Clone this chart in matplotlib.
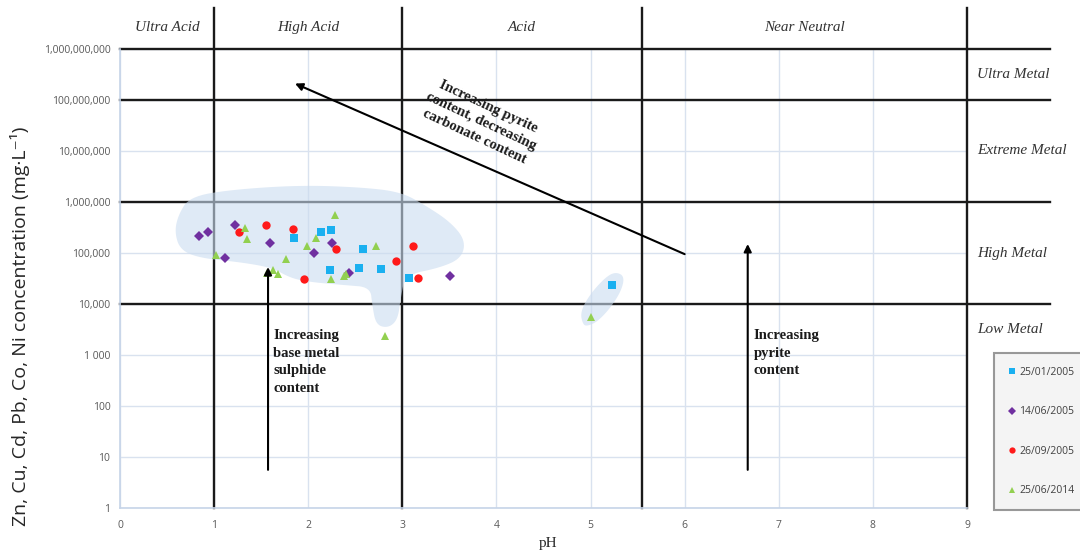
import numpy as np
import matplotlib
matplotlib.use("Agg")
import matplotlib.pyplot as plt
from matplotlib.ticker import FixedLocator, FixedFormatter

# sample series: pH and metal concentration (mg/L)
jan05_ph = [1.85, 2.14, 2.24, 2.23, 2.58, 2.54, 2.77, 3.07, 5.23]
jan05_conc = [2.0e5, 2.6e5, 2.8e5, 4.6e4, 1.2e5, 5.1e4, 4.8e4, 3.2e4, 2.4e4]

jun05_ph = [0.84, 0.94, 1.12, 1.22, 1.59, 2.06, 2.25, 2.43, 3.51]
jun05_conc = [2.2e5, 2.6e5, 7.9e4, 3.5e5, 1.6e5, 1.0e5, 1.6e5, 4.1e4, 3.5e4]

sep05_ph = [1.26, 1.55, 1.84, 2.30, 1.96, 2.93, 3.11, 3.17]
sep05_conc = [2.6e5, 3.5e5, 3.0e5, 1.2e5, 3.1e4, 7.0e4, 1.4e5, 3.2e4]

jun14_ph = [1.02, 1.33, 1.35, 1.56, 1.63, 1.68, 1.76, 1.99, 2.08, 2.28,
            2.24, 2.38, 2.40, 2.72, 2.82, 5.01]
jun14_conc = [9.1e4, 3.1e5, 1.9e5, 4.0e4, 4.7e4, 3.9e4, 7.6e4, 1.4e5, 2.0e5, 5.6e5,
              3.1e4, 3.6e4, 3.8e4, 1.4e5, 2.4e3, 5.6e3]

# classification boundaries
ph_bounds = [1, 3, 5.55, 9]
conc_bounds = [1e4, 1e6, 1e8, 1e9]
acid_labels = ["Ultra Acid", "High Acid", "Acid", "Near Neutral"]
metal_labels = ["Ultra Metal", "Extreme Metal", "High Metal", "Low Metal"]
metal_label_conc = [10**8.5, 1e7, 1e5, 10**3.5]

y_ticks = [1, 10, 100, 1000, 1e4, 1e5, 1e6, 1e7, 1e8, 1e9]
y_tick_labels = ["1", "10", "100", "1 000", "10,000", "100,000", "1,000,000",
                 "10,000,000", "100,000,000", "1,000,000,000"]

# shaded envelopes (pH, log10 conc)
main_blob_ph = [0.62, 0.74, 1.17, 1.91, 2.55, 2.98, 3.24, 3.51, 3.67, 3.63, 3.40, 3.03,
                2.98, 2.95, 2.85, 2.72, 2.68, 2.66, 2.39, 2.02, 1.81, 1.62, 1.28, 0.85,
                0.64, 0.58]
main_blob_log = [5.75, 6.10, 6.24, 6.33, 6.29, 6.20, 5.94, 5.61, 5.25, 4.90, 4.71, 4.57,
                 4.08, 3.69, 3.53, 3.59, 3.98, 4.33, 4.37, 4.43, 4.51, 4.71, 4.82, 4.90,
                 5.06, 5.41]
small_blob_ph = [4.92, 4.89, 4.99, 5.15, 5.26, 5.36, 5.33, 5.21, 5.07, 4.97]
small_blob_log = [3.59, 3.84, 4.18, 4.51, 4.63, 4.55, 4.27, 3.92, 3.65, 3.57]


def chaikin(xs, ys, n=3):
    pts = np.column_stack([xs, ys])
    for _ in range(n):
        nxt = np.roll(pts, -1, axis=0)
        q = 0.75 * pts + 0.25 * nxt
        r = 0.25 * pts + 0.75 * nxt
        pts = np.empty((2 * len(q), 2))
        pts[0::2] = q
        pts[1::2] = r
    return pts[:, 0], pts[:, 1]


serif = "Liberation Serif"
sans = ["Open Sans", "DejaVu Sans"]

fig = plt.figure(figsize=(10.8, 5.55), dpi=100)
ax = fig.add_axes([120 / 1080, 1 - 508 / 555, 847 / 1080, 459 / 555])
ax.set_xlim(0, 9)
ax.set_ylim(1, 1e9)
ax.set_yscale("log")

grid_c = "#d9e2ef"
ax.yaxis.set_major_locator(FixedLocator(y_ticks))
ax.yaxis.set_major_formatter(FixedFormatter(y_tick_labels))
ax.yaxis.set_minor_locator(FixedLocator([]))
ax.set_xticks(range(10))
ax.tick_params(length=0, labelsize=7.5, labelcolor="#595959")
ax.tick_params(axis="x", pad=9)
ax.tick_params(axis="y", pad=7)
for lab in ax.get_xticklabels() + ax.get_yticklabels():
    lab.set_family(sans)
ax.grid(True, color=grid_c, lw=1)
ax.set_axisbelow(True)
for s in ["top", "right"]:
    ax.spines[s].set_visible(False)
for s in ["left", "bottom"]:
    ax.spines[s].set_color("#c6d4e8")
    ax.spines[s].set_linewidth(1.2)

# class boundary lines (extend beyond axes)
for c in conc_bounds:
    ax.plot([0, 9.88], [c, c], color="#1a1a1a", lw=1.7, clip_on=False, zorder=2)
for p in ph_bounds:
    ax.plot([p, p], [1, 10**9.8], color="#1a1a1a", lw=1.7, clip_on=False, zorder=2)

# shaded envelopes
for bx, by in [(main_blob_ph, main_blob_log), (small_blob_ph, small_blob_log)]:
    sx, sy = chaikin(bx, by)
    ax.fill(sx, 10 ** sy, color="#cadcf0", alpha=0.6, lw=0, zorder=3)

# data
mk = dict(linestyle="none", zorder=5, markeredgewidth=0)
ax.plot(jan05_ph, jan05_conc, marker="s", ms=5.5, color="#1ab0f0", label="25/01/2005", **mk)
ax.plot(jun05_ph, jun05_conc, marker="D", ms=5, color="#7030a0", label="14/06/2005", **mk)
ax.plot(sep05_ph, sep05_conc, marker="o", ms=6, color="#ff1a1a", label="26/09/2005", **mk)
ax.plot(jun14_ph, jun14_conc, marker="^", ms=6, color="#92d050", label="25/06/2014", **mk)

# arrows
ap = dict(arrowstyle="-|>", color="black", lw=1.5, mutation_scale=11, shrinkA=0, shrinkB=0)
ax.annotate("", xy=(1.573, 5.3e4), xytext=(1.573, 5.6), arrowprops=ap, zorder=6)
ax.annotate("", xy=(6.67, 1.5e5), xytext=(6.67, 5.6), arrowprops=ap, zorder=6)
ax.annotate("", xy=(1.86, 2.1e8), xytext=(6.0, 9.5e4), arrowprops=ap, zorder=6)

bold = dict(family=serif, fontweight="bold", fontsize=10.5, color="#1a1a1a",
            linespacing=1.45)
ax.text(1.63, 3.2e3, "Increasing\nbase metal\nsulphide\ncontent", ha="left", va="top", **bold)
ax.text(6.73, 3.2e3, "Increasing\npyrite\ncontent", ha="left", va="top", **bold)
ax.text(3.84, 10**7.58, "Increasing pyrite\ncontent, decreasing\ncarbonate content",
        ha="center", va="center", rotation=-25, rotation_mode="anchor",
        **dict(bold, linespacing=1.32))

# zone labels
edges = [0] + ph_bounds
for lab, a, b in zip(acid_labels, edges[:-1], edges[1:]):
    ax.text((a + b) / 2, 10**9.43, lab, ha="center", va="center", family=serif,
            style="italic", fontsize=11, color="#333333", clip_on=False)
for lab, c in zip(metal_labels, metal_label_conc):
    ax.text(9.11, c, lab, ha="left", va="center", family=serif, style="italic",
            fontsize=11, color="#333333", clip_on=False)

fig.text(20 / 1080, 1 - 326 / 555, "Zn, Cu, Cd, Pb, Co, Ni concentration (mg·L⁻¹)",
         rotation=90, ha="center", va="center", family=sans, fontsize=14, color="#262626")
fig.text(548 / 1080, 1 - 544 / 555, "pH", ha="center", va="center", family=serif,
         fontsize=11, color="#262626")

leg = fig.legend(loc="upper left", bbox_to_anchor=(994 / 1080, 1 - 353 / 555),
                 borderaxespad=0, frameon=True, fancybox=False,
                 labelspacing=2.75, borderpad=1.3, handlelength=0.8, handletextpad=0.3,
                 markerscale=0.75, prop={"family": sans, "size": 7.5})
leg.get_frame().set_facecolor("#f2f2f2")
leg.get_frame().set_edgecolor("#808080")
leg.get_frame().set_linewidth(1.5)
for t in leg.get_texts():
    t.set_color("#404040")

fig.savefig("out.png", dpi=100)
